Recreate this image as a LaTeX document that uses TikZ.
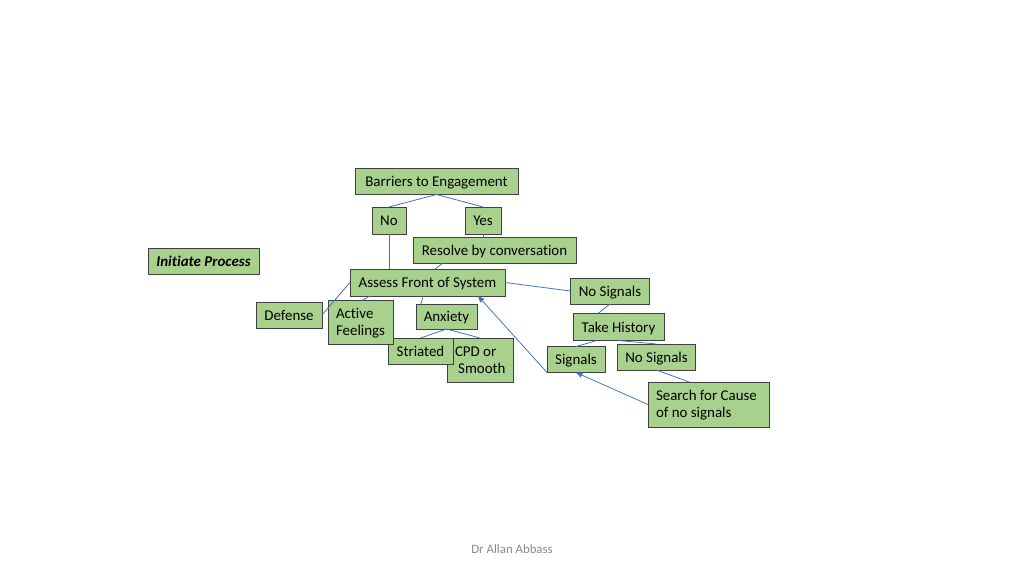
\documentclass[tikz,border=0pt]{standalone}
\usepackage{fontspec}
\setmainfont{Carlito}[Ligatures=NoCommon]
\usetikzlibrary{arrows.meta,calc}
\definecolor{boxfill}{HTML}{A9D18E}
\definecolor{boxline}{HTML}{404040}
\definecolor{conn}{HTML}{4472C4}
\definecolor{foot}{HTML}{898989}
\tikzset{
  wh/.style n args={2}{minimum width={#1*0.9375pt},minimum height={#2*0.9375pt}},
  gbox/.style={draw=boxline,fill=boxfill,line width=0.75pt,inner sep=0pt,outer sep=0pt,
    font=\fontsize{14}{16.3}\selectfont,align=center,text height=11.5pt,text depth=2.1pt},
  lbox/.style={gbox,align=flush left,text width={(#1-16)*0.9375pt},text height=9.5pt,text depth=17pt},
  conline/.style={draw=conn,line width=0.75pt},
  arr/.style={conline,-{Triangle[length=6pt,width=5pt]}}
}
\begin{document}
\begin{tikzpicture}[x=0.9375pt,y=-0.9375pt]
\useasboundingbox (0,0) rectangle (1024,576);
\node[gbox,wh={163}{26}] (barriers) at (436.5,181.5) {Barriers to Engagement};
\node[gbox,wh={34}{27}] (no) at (389,220.5) {No};
\node[gbox,wh={36}{27}] (yes) at (483,220.5) {Yes};
\node[gbox,wh={163}{26}] (resolve) at (494.5,250) {Resolve by conversation};
\node[gbox,wh={111}{26},font=\fontsize{14}{16.3}\selectfont\bfseries\itshape] (initiate) at (203.5,261) {Initiate Process};
\node[gbox,wh={155}{27}] (assess) at (427.5,282.5) {Assess Front of System};
\node[gbox,wh={79}{26}] (nosig1) at (610,291) {No Signals};
\node[gbox,wh={66}{26}] (defense) at (289,315) {Defense};
\node[gbox,wh={61}{25}] (anxiety) at (446.5,316.5) {Anxiety};
\node[gbox,wh={91}{27}] (takehist) at (618.5,327) {Take History};
\node[lbox=66,wh={66}{44}] (cpd) at (480,360) {CPD or\\\hspace*{3pt}Smooth};
\node[gbox,wh={65}{26}] (striated) at (420.5,351) {Striated};
\node[lbox=65,wh={65}{44}] (active) at (360.5,322.5) {Active\\Feelings};
\node[gbox,wh={58}{26}] (signals) at (576,359.5) {Signals};
\node[gbox,wh={78}{26}] (nosig2) at (656.5,357) {No Signals};
\node[lbox=121,wh={121}{45}] (search) at (708.5,404.5) {Search for Cause\\of no signals};
\node[font=\fontsize{12}{14}\selectfont,text=foot] (footer) at (512,549) {Dr Allan Abbass};

\draw[conline] (barriers.south) -- (no.north);
\draw[conline] (barriers.south) -- (yes.north);
\draw[conline] (no.south) -- (no.south |- assess.north);
\draw[conline] (yes.south) -- (yes.south |- resolve.north);
\draw[conline] ($(resolve.south west)+(30,0)$) -- ($(assess.north west)+(85,0)$);
\draw[conline] (assess.west) -- (defense.east);
\draw[conline] ($(assess.south west)+(20,0)$) -- ($(active.north west)+(34,0)$);
\draw[conline] ($(assess.south west)+(73,0)$) -- ($(anxiety.north west)+(5,0)$);
\draw[conline] (anxiety.south) -- (striated.north);
\draw[conline] (anxiety.south) -- (cpd.north);
\draw[conline] (assess.east) -- (nosig1.west);
\draw[conline] (nosig1.south) -- ($(takehist.north west)+(25,0)$);
\draw[conline] ($(takehist.south west)+(24,0)$) -- (signals.north);
\draw[conline] (takehist.south) -- (nosig2.north);
\draw[conline] (nosig2.south) -- ($(search.north west)+(41,0)$);
\draw[arr] (search.west) -- (signals.south);
\draw[arr] (signals.south west) -- ($(assess.south west)+(128,0)$);
\end{tikzpicture}
\end{document}
